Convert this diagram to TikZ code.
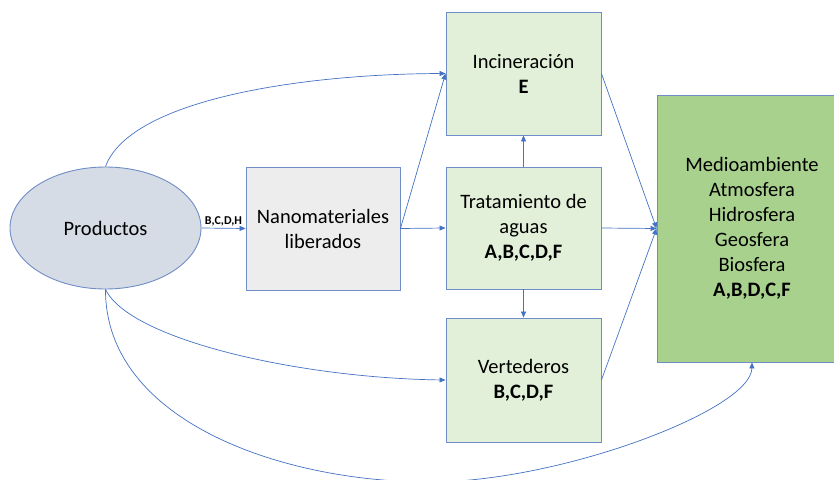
\documentclass[tikz,border=0pt]{standalone}
\usepackage{fontspec}
\setmainfont{Carlito}
\usetikzlibrary{arrows.meta,shapes.geometric}
\definecolor{lnblue}{HTML}{4472C4}
\definecolor{bdblue}{HTML}{6F8DC6}
\definecolor{ellfill}{HTML}{D6DCE5}
\definecolor{grayfill}{HTML}{EDEDED}
\definecolor{lgreen}{HTML}{E2F0D9}
\definecolor{dgreen}{HTML}{A9D18E}
\tikzset{
  txt/.style={font=\fontsize{20.5}{25}\selectfont, align=center, text=black},
  boxnode/.style={txt, draw=bdblue, line width=0.9pt, rectangle, inner sep=0pt},
  conn/.style={draw=lnblue, line width=0.7pt, -{Triangle[length=6pt,width=5pt]}},
  lbl/.style={font=\fontsize{12}{14}\selectfont\bfseries, text=black, inner sep=1pt}
}
\begin{document}
\begin{tikzpicture}[x=1pt,y=-1pt]
\useasboundingbox[fill=white] (0,0) rectangle (834,479);
\node[txt, ellipse, draw=bdblue, fill=ellfill, line width=0.9pt, minimum width=191pt, minimum height=122pt, inner sep=0pt] (prod) at (105.5,228) {Productos};
\node[boxnode, fill=grayfill, minimum width=154pt, minimum height=123pt] (nano) at (323,228.5) {Nanomateriales\\liberados};
\node[boxnode, fill=lgreen, minimum width=155pt, minimum height=123pt] (inc) at (523.5,73.5) {Incineración\\\textbf{E}};
\node[boxnode, fill=lgreen, minimum width=155pt, minimum height=122pt] (trat) at (523.5,228) {Tratamiento de\\aguas\\\textbf{A,B,C,D,F}};
\node[boxnode, fill=lgreen, minimum width=155pt, minimum height=124pt] (vert) at (523.5,380) {Vertederos\\\textbf{B,C,D,F}};
\node[boxnode, fill=dgreen, minimum width=190pt, minimum height=267pt] (medio) at (752,228.5) {Medioambiente\\Atmosfera\\Hidrosfera\\Geosfera\\Biosfera\\\textbf{A,B,D,C,F}};
\coordinate (low) at (430,482);

\draw[conn] (prod.east) -- node[lbl, above=1pt] {B,C,D,H} (nano.west);
\draw[conn] (nano.east) -- (inc.west);
\draw[conn] (nano.east) -- (trat.west);
\draw[conn] (inc.east) -- (medio.west);
\draw[conn] (trat.east) -- (medio.west);
\draw[conn] (vert.east) -- (medio.west);
\draw[conn] (trat.north) -- (inc.south);
\draw[conn] (trat.south) -- (vert.north);
\draw[conn] (prod.north) .. controls (130,100) and (300,74) .. (inc.west);
\draw[conn] (prod.south) .. controls (130,340) and (300,378) .. (vert.west);
\draw[conn] (prod.south) .. controls (105,420) and (280,482) .. (low) .. controls (560,482) and (751,410) .. (medio.south);
\end{tikzpicture}
\end{document}
